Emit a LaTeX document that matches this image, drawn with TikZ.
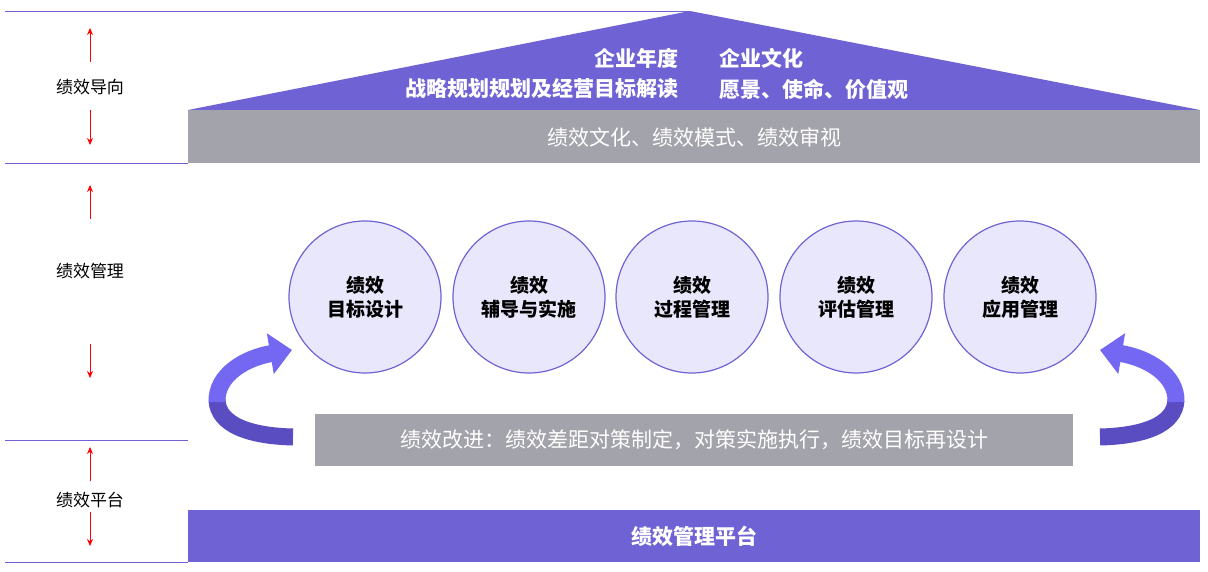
\documentclass[tikz,border=0pt]{standalone}
\usepackage{fontspec}
\setmainfont{Noto Sans CJK SC}
\usetikzlibrary{arrows.meta}
\definecolor{roofpurple}{HTML}{6F62D4}
\definecolor{bandgray}{HTML}{A3A3AB}
\definecolor{circfill}{HTML}{E9E7FB}
\definecolor{arrowtop}{HTML}{7468F2}
\definecolor{arrowbot}{HTML}{5A4DC2}
\tikzset{
    % les étapes du cycle
    stage/.style={circle, draw=roofpurple, fill=circfill, line width=1.2pt,
        minimum size=152pt, align=center, font=\bfseries\fontsize{19}{24}\selectfont},
    % les libellés de gauche
    level_label/.style={font=\fontsize{17}{20}\selectfont},
    level_arrow/.style={red, line width=1pt, -{Stealth[length=7pt,width=6pt]}},
    sep_line/.style={roofpurple, line width=0.8pt},
    white_text/.style={white, font=\fontsize{21}{26}\selectfont}
}
\begin{document}
\begin{tikzpicture}[x=1pt,y=-1pt]
    \useasboundingbox (0,0) rectangle (1208,572);

    % --- toit et bandeaux ---
    \fill[roofpurple] (188,110) -- (690,11) -- (1200,110) -- cycle;
    \fill[bandgray] (188,110) rectangle (1200,163);
    \fill[bandgray] (315,414) rectangle (1073,466);
    \fill[roofpurple] (188,510) rectangle (1200,562);

    % lignes de séparation
    \draw[sep_line] (5,11) -- (690,11);
    \draw[sep_line] (5,163) -- (188,163);
    \draw[sep_line] (5,440) -- (188,440);
    \draw[sep_line] (5,562) -- (188,562);

    % textes du toit
    \node[white_text, font=\bfseries\fontsize{21}{26}\selectfont, anchor=east] (annual) at (682,58) {企业年度};
    \node[white_text, font=\bfseries\fontsize{21}{26}\selectfont, anchor=east] (strategy) at (682,89) {战略规划规划及经营目标解读};
    \node[white_text, font=\bfseries\fontsize{21}{26}\selectfont, anchor=west] (culture) at (716,58) {企业文化};
    \node[white_text, font=\bfseries\fontsize{21}{26}\selectfont, anchor=west] (vision) at (716,89) {愿景、使命、价值观};
    \node[white_text] (band) at (694,137) {绩效文化、绩效模式、绩效审视};
    \node[white_text] (improve) at (694,440) {绩效改进：绩效差距对策制定，对策实施执行，绩效目标再设计};
    \node[white_text, font=\bfseries\fontsize{21}{26}\selectfont] (platform) at (694,536) {绩效管理平台};

    % --- étapes ---
    \node[stage] (design) at (365,297) {绩效\\目标设计};
    \node[stage] (coach)  at (529,297) {绩效\\辅导与实施};
    \node[stage] (process) at (692,297) {绩效\\过程管理};
    \node[stage] (assess) at (856,297) {绩效\\评估管理};
    \node[stage] (apply)  at (1020,297) {绩效\\应用管理};

    % --- flèches courbes ---
    \draw[arrowbot, line width=17pt] (293,437) .. controls (250,436) and (218,425) .. (217,400);
    \draw[arrowtop, line width=17pt, -{Triangle[length=22pt,width=40pt]}]
        (217,402) .. controls (216,375) and (245,358) .. (292,350);
    \draw[arrowbot, line width=17pt] (1100,437) .. controls (1143,436) and (1175,425) .. (1176,400);
    \draw[arrowtop, line width=17pt, -{Triangle[length=22pt,width=40pt]}]
        (1176,402) .. controls (1177,375) and (1148,358) .. (1100,350);

    % --- niveaux à gauche ---
    \node[level_label] (orient) at (90,87) {绩效导向};
    \node[level_label] (manage) at (90,271) {绩效管理};
    \node[level_label] (base)   at (90,500) {绩效平台};
    \draw[level_arrow] (90,62) -- (90,28);
    \draw[level_arrow] (90,110) -- (90,145);
    \draw[level_arrow] (90,219) -- (90,185);
    \draw[level_arrow] (90,344) -- (90,378);
    \draw[level_arrow] (90,481) -- (90,447);
    \draw[level_arrow] (90,512) -- (90,546);
\end{tikzpicture}
\end{document}
